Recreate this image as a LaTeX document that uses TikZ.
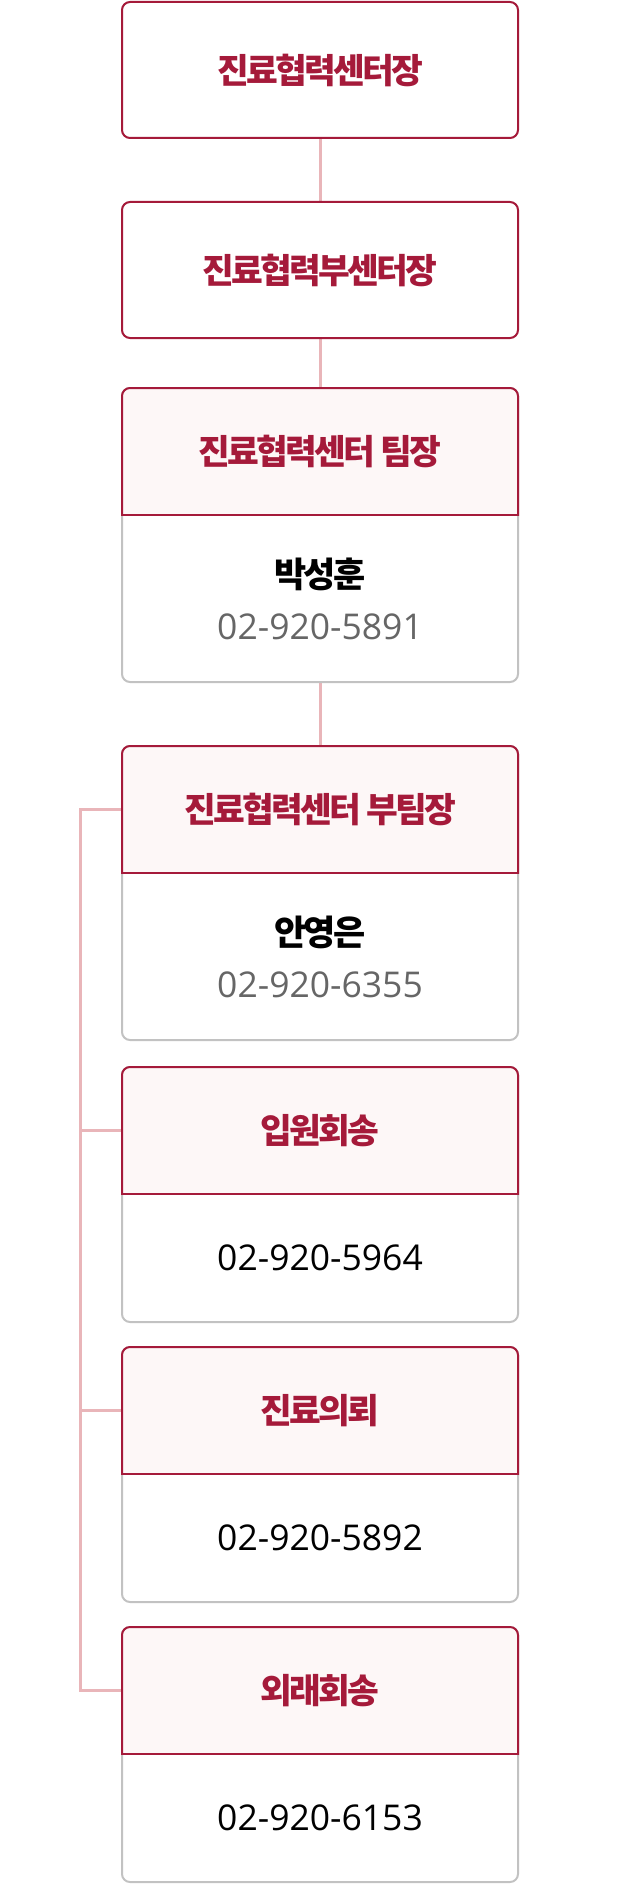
\documentclass[tikz,border=0pt]{standalone}
\usepackage{fontspec}
\setmainfont{Open Sans}
\newfontfamily\krfont{Noto Sans CJK KR}[LetterSpace=-8]
\usetikzlibrary{positioning, backgrounds}
\definecolor{CrimsonRed}{HTML}{A51A3A}
\definecolor{HeadTint}{HTML}{FDF7F7}
\definecolor{LinkPink}{HTML}{E9B5B9}
\definecolor{FrameGray}{HTML}{C2C2C2}
\definecolor{TelGray}{HTML}{666666}
\newcommand\headfont{\krfont\bfseries\fontsize{34.5}{40}\selectfont}
\newcommand\namefont{\krfont\bfseries\fontsize{35}{52}\selectfont}
\newcommand\telfont{\fontsize{35.5}{52}\selectfont}
\tikzset{
  topbox/.style={rectangle, rounded corners=8pt, draw=CrimsonRed, fill=white, line width=2pt, minimum width=396pt, minimum height=136pt, inner sep=0pt, outer sep=0pt, text=CrimsonRed, font=\headfont},
  headcell/.style={rectangle, minimum width=396pt, minimum height=127pt, inner sep=0pt, outer sep=0pt, text=CrimsonRed, font=\headfont},
  bodycell/.style={rectangle, minimum width=396pt, minimum height=128pt, inner sep=0pt, outer sep=0pt, align=center, font=\telfont},
  tallcell/.style={bodycell, minimum height=167pt},
  headframe/.style={draw=CrimsonRed, fill=HeadTint, line width=2pt, rounded corners=8pt},
  bodyframe/.style={draw=FrameGray, fill=white, line width=2pt, rounded corners=8pt},
  splitline/.style={draw=CrimsonRed, line width=2pt},
  link/.style={draw=LinkPink, line width=3pt}
}

\begin{document}
\begin{tikzpicture}[x=1pt, y=-1pt]
  \useasboundingbox (0,0) rectangle (640,1886);

  % Center heads
  \node[topbox] (chief) at (320,70) {진료협력센터장};
  \node[topbox, below=64pt of chief] (vicechief) {진료협력부센터장};

  % Team cards
  \node[headcell, below=50pt of vicechief] (lead-head) {진료협력센터 팀장};
  \node[tallcell, below=0pt of lead-head] (lead-body) {{\namefont 박성훈}\\\textcolor{TelGray}{02-920-5891}};

  \node[headcell, below=64pt of lead-body] (deputy-head) {진료협력센터 부팀장};
  \node[tallcell, below=0pt of deputy-head] (deputy-body) {{\namefont 안영은}\\\textcolor{TelGray}{02-920-6355}};

  \node[headcell, below=27pt of deputy-body] (admit-head) {입원회송};
  \node[bodycell, below=0pt of admit-head] (admit-body) {02-920-5964};

  \node[headcell, below=25pt of admit-body] (refer-head) {진료의뢰};
  \node[bodycell, below=0pt of refer-head] (refer-body) {02-920-5892};

  \node[headcell, below=25pt of refer-body] (outref-head) {외래회송};
  \node[bodycell, below=0pt of outref-head] (outref-body) {02-920-6153};

  \begin{scope}[on background layer]
    % Links
    \draw[link] (chief) -- (vicechief);
    \draw[link] (vicechief) -- (lead-head);
    \draw[link] (lead-body) -- (deputy-head);
    \draw[link] (deputy-head.west) -- ++(-42pt,0) coordinate (trunk) |- (outref-head.west);
    \foreach \card in {admit,refer}
      \draw[link] (\card-head.west) -- (\card-head.west -| trunk);

    % Card frames
    \foreach \card in {lead,deputy,admit,refer,outref} {
      \filldraw[bodyframe] (\card-head.north west) rectangle (\card-body.south east);
      \begin{scope}
        \clip ([shift={(-3pt,3pt)}]\card-head.north west) rectangle ([xshift=3pt]\card-head.south east);
        \filldraw[headframe] (\card-head.north west) rectangle ([yshift=-12pt]\card-head.south east);
      \end{scope}
      \draw[splitline] (\card-head.south west) -- (\card-head.south east);
    }
  \end{scope}
\end{tikzpicture}
\end{document}
